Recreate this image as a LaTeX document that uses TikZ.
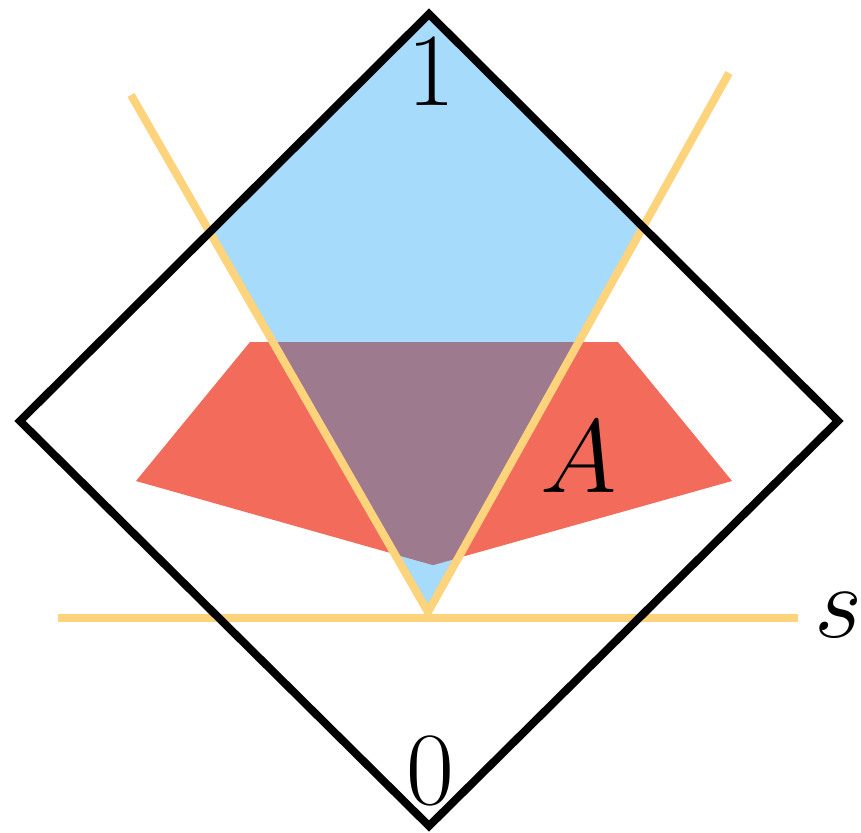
\RequirePackage{fix-cm}
\documentclass[tikz,border=0pt]{standalone}
\definecolor{skyblue}{HTML}{A6DBFC}
\definecolor{salmonred}{HTML}{F26B5B}
\definecolor{mauve}{HTML}{9E7A8E}
\definecolor{goldline}{HTML}{FDD37B}
\tikzset{
  yline/.style={draw=goldline, line width=8pt},
  frame/.style={draw=black, line width=8pt, line join=miter},
  bigtext/.style={font=\fontsize{104}{120}\selectfont, inner sep=0pt, anchor=base},
}
\begin{document}
\begin{tikzpicture}[x=1pt,y=-1pt]
\useasboundingbox (0,0) rectangle (861,832);
\coordinate (T) at (429,14);
\coordinate (L) at (20,421);
\coordinate (R) at (838,421);
\coordinate (B) at (429,826);
\coordinate (V) at (428,612);
\coordinate (VL) at (131,95);
\coordinate (VR) at (729,73);
\coordinate (HL) at (58,618);
\coordinate (HR) at (798,618);
% blue region: cone inside diamond
\begin{scope}
  \clip (T) -- (R) -- (B) -- (L) -- cycle;
  \fill[skyblue] (V) -- (76,0) -- (770,0) -- cycle;
\end{scope}
% red polygon
\fill[salmonred] (250,342) -- (618,342) -- (732,481) -- (433,565) -- (136,481) -- cycle;
% overlap
\begin{scope}
  \clip (T) -- (R) -- (B) -- (L) -- cycle;
  \clip (V) -- (76,0) -- (770,0) -- cycle;
  \fill[mauve] (250,342) -- (618,342) -- (732,481) -- (433,565) -- (136,481) -- cycle;
\end{scope}
% yellow lines
\draw[yline] (VL) -- (V) -- (VR);
\draw[yline] (HL) -- (HR);
% diamond
\draw[frame] (T) -- (R) -- (B) -- (L) -- cycle;
% labels
\node[bigtext] (one) at (431,106) {1};
\node[bigtext] (zero) at (430,804) {0};
\node[bigtext] (A) at (579,492) {$A$};
\node[bigtext] (s) at (838,637) {$s$};
\end{tikzpicture}
\end{document}
